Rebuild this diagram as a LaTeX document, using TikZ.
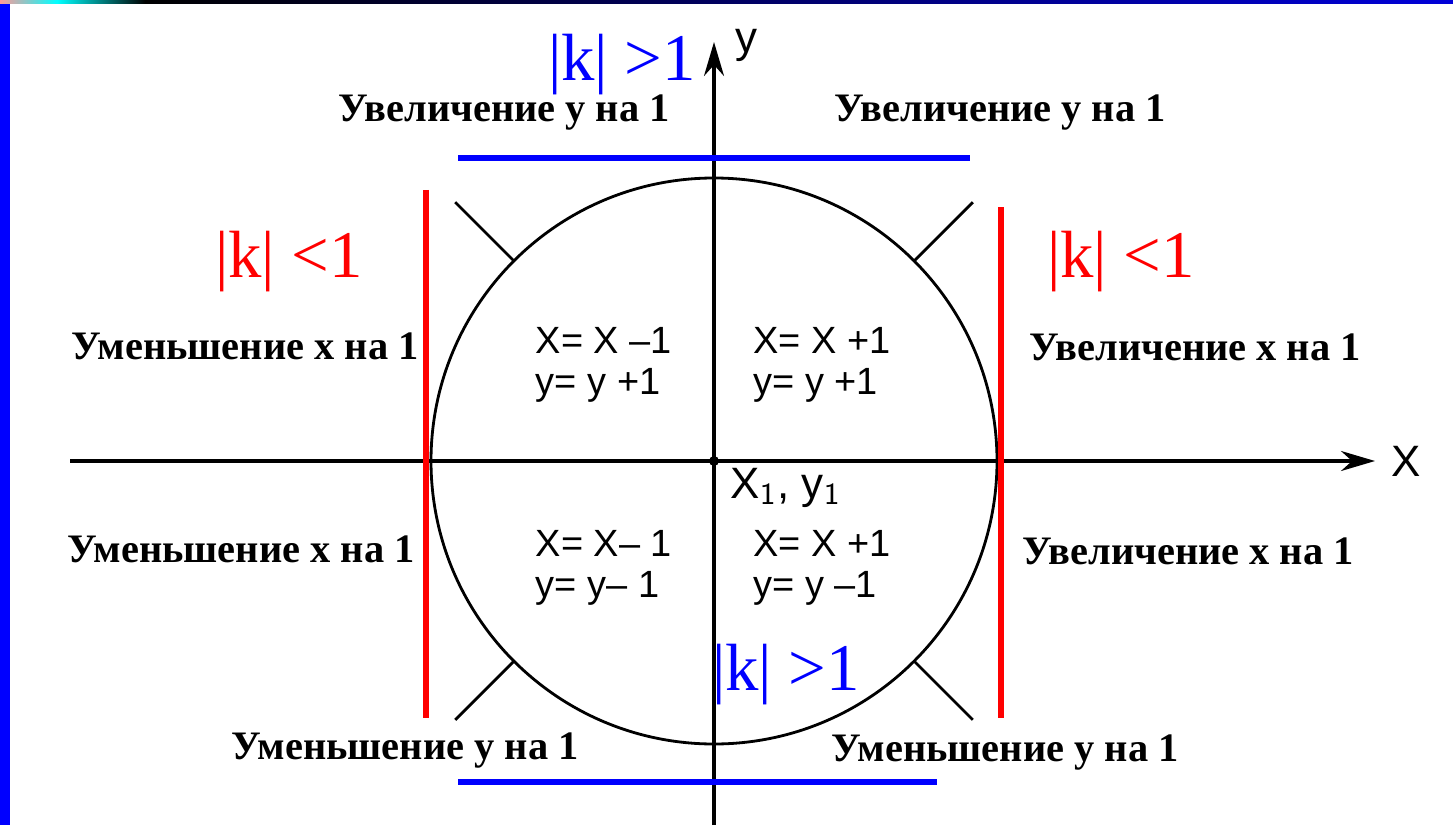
\documentclass[tikz,border=0pt]{standalone}
\usepackage{fontspec}
\setmainfont{Liberation Serif}
\newfontfamily\eqfont{Liberation Sans}
\usepackage{xcolor}
\definecolor{ribbon}{RGB}{0,0,255}
\definecolor{kred}{RGB}{255,0,0}
\usepackage{tikz}
\usetikzlibrary{arrows.meta, calc}

\begin{document}
\begin{tikzpicture}[
    >={Stealth[length=3.4mm, width=2mm]},
    axis/.style={line width=0.9pt},
    label/.style={font=\bfseries\fontsize{11.5}{13}\selectfont, inner sep=1pt},
    eqn/.style={font=\eqfont\fontsize{10.8}{11.6}\selectfont, align=left, inner sep=1pt},
    kblue/.style={text=ribbon, font=\fontsize{19}{22}\selectfont, inner sep=1pt},
    kred/.style={text=kred, font=\fontsize{19}{22}\selectfont, inner sep=1pt},
    bluebar/.style={draw=ribbon, line width=1.7pt},
    redbar/.style={draw=kred, line width=1.7pt}
  ]
  \useasboundingbox (0,0) rectangle (14.53,8.25);

  % Frame: top ribbon and left stripe
  \shade[left color=red!40, right color=cyan] (0,8.21) rectangle (0.57,8.25);
  \shade[left color=cyan, right color=black] (0.57,8.21) rectangle (1.45,8.25);
  \shade[left color=black, right color=ribbon!85!black] (1.45,8.21) rectangle (14.53,8.25);
  \fill[ribbon] (0,0) rectangle (0.10,8.21);

  % Axes
  \coordinate (O) at (7.14,3.64);
  \coordinate (xstart) at (0.70,3.64);
  \coordinate (xend) at (13.75,3.64);
  \coordinate (ystart) at (7.14,0);
  \coordinate (yend) at (7.14,7.83);
  \draw[axis, ->] (xstart) -- (xend);
  \draw[axis, ->] (ystart) -- (yend);
  \node (xlabel) at (14.06,3.64) [font=\eqfont\fontsize{12.5}{15}\selectfont] {X};
  \node (ylabel) at (7.46,7.80) [font=\eqfont\fontsize{12.5}{15}\selectfont] {y};
  \fill (O) circle (0.05);
  \node (start) at (7.86,3.37) [font=\eqfont\fontsize{12.5}{15}\selectfont] {X$_{\mathsf{1}}$, y$_{\mathsf{1}}$};

  % Circle and octant ticks
  \draw[line width=0.8pt] (O) circle (2.83);
  \foreach \a in {45,135,225,315}
    \draw[line width=0.8pt] ($(O)+(\a:2.83)$) -- ($(O)+(\a:3.66)$);

  % Slope regions
  \draw[bluebar] (4.58,6.67) -- (9.70,6.67);
  \draw[bluebar] (4.58,0.43) -- (9.37,0.43);
  \draw[redbar] (4.26,6.35) -- (4.26,1.07);
  \draw[redbar] (10.01,6.18) -- (10.01,1.07);

  \node (ktop) at (6.22,7.60) [kblue] {|k| >1};
  \node (kbottom) at (7.86,1.50) [kblue] {|k| >1};
  \node (kleft) at (2.89,5.63) [kred] {|k| <1};
  \node (kright) at (11.21,5.63) [kred] {|k| <1};

  % Step labels
  \node (upleft) at (5.04,7.12) [label] {Увеличение у на 1};
  \node (upright) at (10.00,7.12) [label] {Увеличение у на 1};
  \node (leftup) at (2.45,4.79) [label] {Уменьшение х на 1};
  \node (leftdown) at (2.41,2.76) [label] {Уменьшение х на 1};
  \node (rightup) at (11.95,4.78) [label] {Увеличение х на 1};
  \node (rightdown) at (11.88,2.74) [label] {Увеличение х на 1};
  \node (downleft) at (4.05,0.74) [label] {Уменьшение у на 1};
  \node (downright) at (10.05,0.72) [label] {Уменьшение у на 1};

  % Increments per quadrant
  \node (q2) at (6.04,4.60) [eqn] {X= X –1\\y= y +1};
  \node (q1) at (8.22,4.60) [eqn] {X= X +1\\y= y +1};
  \node (q3) at (6.04,2.57) [eqn] {X= X– 1\\y= y– 1};
  \node (q4) at (8.22,2.57) [eqn] {X= X +1\\y= y –1};

\end{tikzpicture}
\end{document}
